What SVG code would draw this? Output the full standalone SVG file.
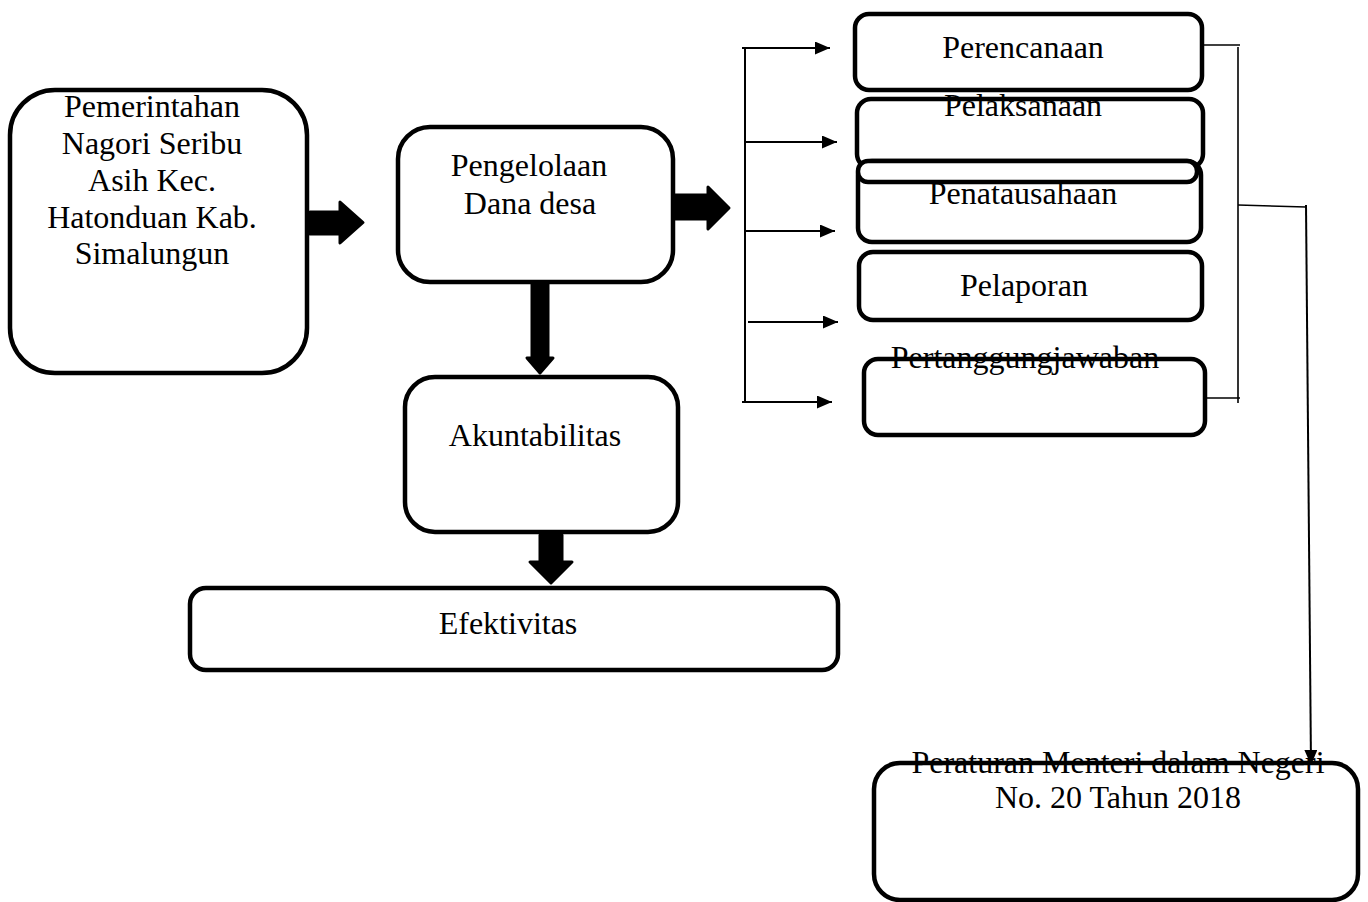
<svg xmlns="http://www.w3.org/2000/svg" width="1368" height="902" viewBox="0 0 1368 902">
<style>
.box{fill:#fff;stroke:#000;stroke-width:4.5}
.blk{fill:#000;stroke:#000;stroke-width:3;stroke-linejoin:round}
.ln{fill:none;stroke:#000;stroke-width:2}
.br{fill:none;stroke:#000;stroke-width:1.6}
text{font-family:"Liberation Serif","Times New Roman",serif;font-size:32px;fill:#000;text-anchor:middle}
</style>
<defs>
<marker id="ah" viewBox="0 0 15 13" refX="15" refY="6.5" markerWidth="15" markerHeight="13" markerUnits="userSpaceOnUse" orient="auto">
<path d="M0,0 L15,6.5 L0,13 Z" fill="#000"/>
</marker>
</defs>
<g id="connectors">
<path class="blk" d="M310,212 H340 V202 L363,222.5 L340,243 V234 H310 Z"/>
<path class="blk" d="M675,195 H708 V187 L729,208 L708,229 V219 H675 Z"/>
<path class="blk" d="M532,283 H548 V358 H553 L540,373 L527,358 H532 Z"/>
<path class="blk" d="M540,535 H562 V562 H572 L551,583 L530,562 H540 Z"/>
<line class="ln" x1="745" y1="47" x2="745" y2="403"/>
<line class="ln" x1="742" y1="48" x2="830" y2="48" marker-end="url(#ah)"/>
<line class="ln" x1="745" y1="142" x2="837" y2="142" marker-end="url(#ah)"/>
<line class="ln" x1="745" y1="231" x2="835" y2="231" marker-end="url(#ah)"/>
<line class="ln" x1="748" y1="322" x2="838" y2="322" marker-end="url(#ah)"/>
<line class="ln" x1="742" y1="402" x2="832" y2="402" marker-end="url(#ah)"/>
<line class="br" x1="1202" y1="45" x2="1240" y2="45"/>
<line class="br" x1="1238" y1="47" x2="1238" y2="403"/>
<line class="br" x1="1200" y1="398" x2="1240" y2="398"/>
<line class="br" x1="1238" y1="205" x2="1306" y2="207"/>
<line class="ln" x1="1306" y1="205" x2="1311" y2="765" marker-end="url(#ah)"/>
</g>
<g id="n-pemerintahan">
<rect class="box" x="10" y="90" width="297" height="283" rx="45"/>
<text x="152" y="117">Pemerintahan</text>
<text x="152" y="153.5">Nagori Seribu</text>
<text x="152" y="190.5">Asih Kec.</text>
<text x="152" y="227.5">Hatonduan Kab.</text>
<text x="152" y="264">Simalungun</text>
</g>
<g id="n-pengelolaan">
<rect class="box" x="398" y="127" width="275" height="155" rx="32"/>
<text x="529" y="176">Pengelolaan</text>
<text x="530" y="214">Dana desa</text>
</g>
<g id="n-akuntabilitas">
<rect class="box" x="405" y="377" width="273" height="155" rx="30"/>
<text x="535" y="446">Akuntabilitas</text>
</g>
<g id="n-efektivitas">
<rect class="box" x="190" y="588" width="648" height="82" rx="16"/>
<text x="508" y="634">Efektivitas</text>
</g>
<g id="n-perencanaan">
<rect class="box" x="855" y="14" width="347" height="76" rx="14"/>
<text x="1023" y="58">Perencanaan</text>
</g>
<g id="n-pelaksanaan">
<rect class="box" x="857" y="99" width="346" height="69" rx="14"/>
<text x="1023" y="116">Pelaksanaan</text>
</g>
<g id="n-penatausahaan">
<rect class="box" x="858" y="161" width="343" height="81" rx="14"/>
<rect class="box" x="858" y="161" width="339" height="21" rx="10"/>
<text x="1023" y="204">Penatausahaan</text>
</g>
<g id="n-pelaporan">
<rect class="box" x="859" y="252" width="343" height="68" rx="14"/>
<text x="1024" y="296">Pelaporan</text>
</g>
<g id="n-pertanggungjawaban">
<rect class="box" x="864" y="359" width="341" height="76" rx="14"/>
<text x="1025" y="368">Pertanggungjawaban</text>
</g>
<g id="n-peraturan">
<rect class="box" x="874" y="763" width="484" height="137" rx="26"/>
<text x="1118" y="773">Peraturan Menteri dalam Negeri</text>
<text x="1118" y="808">No. 20 Tahun 2018</text>
</g>
</svg>
